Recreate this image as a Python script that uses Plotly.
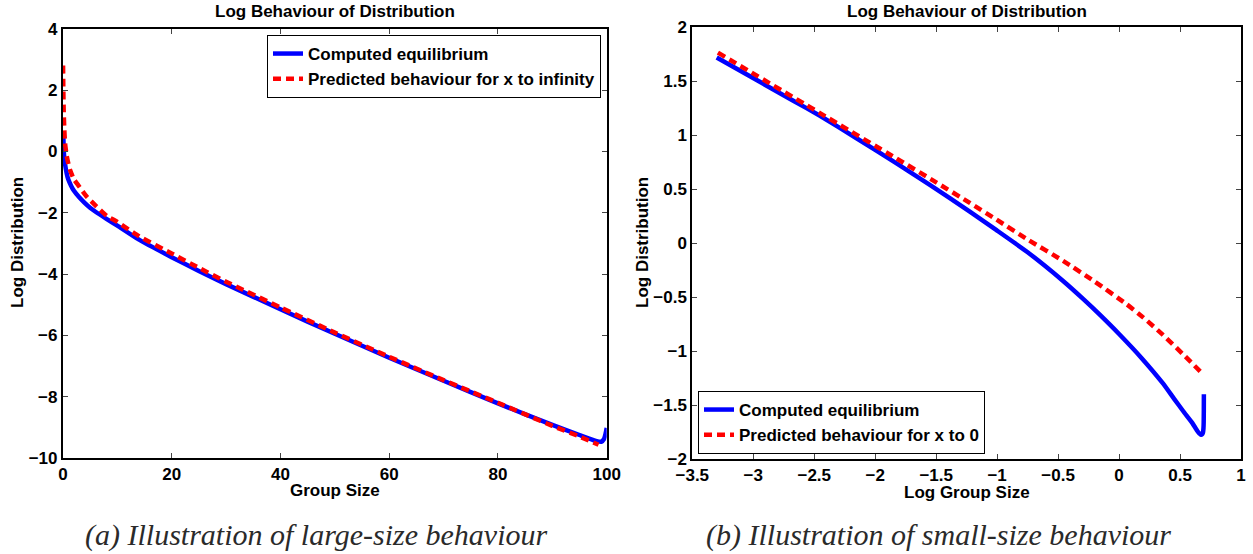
import plotly.graph_objects as go

# ---------------- data ----------------
# (a) large-size behaviour
large_x_computed = [0.07, 0.12, 0.2, 0.4, 0.7, 1.0, 1.5, 2, 3, 4, 5, 6, 8, 10, 14, 20, 25, 30,
                    40, 50, 60, 70, 80, 90, 95, 98, 99, 99.5, 99.8, 100]
large_y_computed = [0.64, 0.25, -0.1, -0.42, -0.72, -0.92, -1.12, -1.28, -1.5, -1.68, -1.84, -1.97,
                    -2.2, -2.42, -2.88, -3.45, -3.9, -4.33, -5.15, -5.95, -6.73, -7.48, -8.22,
                    -8.92, -9.25, -9.44, -9.47, -9.38, -9.2, -9.02]
large_x_predicted = [0.03, 0.08, 0.15, 0.25, 0.4, 0.7, 1.0, 1.3, 2, 2.8, 4.4, 6.2, 8.1, 10, 14,
                     20, 25, 30, 40, 50, 60, 70, 80, 90, 95, 98.5]
large_y_predicted = [2.8, 2.0, 1.3, 0.75, 0.26, -0.15, -0.4, -0.6, -0.9, -1.1, -1.48, -1.8, -2.11,
                     -2.3, -2.77, -3.33, -3.8, -4.25, -5.09, -5.91, -6.7, -7.46, -8.2, -8.95,
                     -9.3, -9.57]

# (b) small-size behaviour
small_x_computed = [-3.3, -2.672, -2.453, -2.15, -1.825, -1.552, -1.224, -1.005, -0.75, -0.459,
                    -0.295, -0.15, 0.0, 0.18, 0.36, 0.45, 0.525, 0.6, 0.625, 0.645, 0.66, 0.672,
                    0.681, 0.688, 0.692, 0.694, 0.695, 0.6955]
small_y_computed = [1.72, 1.32, 1.18, 0.97, 0.74, 0.54, 0.292, 0.12, -0.084, -0.35,
                    -0.516, -0.672, -0.842, -1.059, -1.30, -1.44, -1.555, -1.665, -1.71, -1.745,
                    -1.765, -1.775, -1.772, -1.755, -1.72, -1.66, -1.55, -1.40]
small_x_predicted = [-3.29, -2.453, -1.825, -1.51, -1.224, -1.005, -0.75, -0.459, -0.2, 0.061,
                     0.2, 0.36, 0.525, 0.694]
small_y_predicted = [1.765, 1.205, 0.784, 0.57, 0.373, 0.218, 0.034, -0.164, -0.356, -0.565,
                     -0.69, -0.85, -1.03, -1.22]

title_text = "Log Behaviour of Distribution"
legend_computed = "Computed equilibrium"
legend_pred_a = "Predicted behaviour for x to infinity"
legend_pred_b = "Predicted behaviour for x to 0"
xlabel_a = "Group Size"
xlabel_b = "Log Group Size"
ylabel = "Log Distribution"
caption_a = "(a) Illustration of large-size behaviour"
caption_b = "(b) Illustration of small-size behaviour"

# ---------------- figure ----------------
W, H = 1253, 554
BOLD = dict(family="Liberation Sans, Arial, sans-serif", size=17, color="black", weight="bold")
BLUE = "#0000FF"
RED = "#FF0000"
DASH = "8px,5px"

fig = go.Figure()
fig.add_trace(go.Scatter(x=large_x_computed, y=large_y_computed, mode="lines",
                         name=legend_computed, line=dict(color=BLUE, width=4.5, shape="spline", smoothing=0.5),
                         xaxis="x", yaxis="y", legend="legend"))
fig.add_trace(go.Scatter(x=large_x_predicted, y=large_y_predicted, mode="lines",
                         name=legend_pred_a, line=dict(color=RED, width=4.5, dash=DASH, shape="spline", smoothing=0.5),
                         xaxis="x", yaxis="y", legend="legend"))
fig.add_trace(go.Scatter(x=small_x_computed, y=small_y_computed, mode="lines",
                         name=legend_computed, line=dict(color=BLUE, width=4.5, shape="spline", smoothing=0.4),
                         xaxis="x2", yaxis="y2", legend="legend2"))
fig.add_trace(go.Scatter(x=small_x_predicted, y=small_y_predicted, mode="lines",
                         name=legend_pred_b, line=dict(color=RED, width=4.5, dash=DASH, shape="spline", smoothing=0.5),
                         xaxis="x2", yaxis="y2", legend="legend2"))


def px_x(p):
    return p / W


def px_y(p):
    return (H - p) / H


axis_common = dict(showline=True, linecolor="black", linewidth=2, mirror="ticks",
                   ticks="inside", ticklen=5, tickwidth=1, tickcolor="#444",
                   showgrid=False, zeroline=False, tickfont=BOLD, automargin=False)

fig.update_layout(
    width=W, height=H,
    margin=dict(l=0, r=0, t=0, b=0, autoexpand=False),
    paper_bgcolor="white", plot_bgcolor="white",
    xaxis=dict(domain=[px_x(62.9), px_x(606.7)], range=[0, 100], dtick=20, tick0=0,
               anchor="y", **axis_common),
    yaxis=dict(domain=[px_y(458), px_y(28.7)], range=[-10, 4], dtick=2, tick0=0,
               anchor="x", **axis_common),
    xaxis2=dict(domain=[px_x(692.3), px_x(1241)], range=[-3.5, 1], dtick=0.5, tick0=0,
                anchor="y2", **axis_common),
    yaxis2=dict(domain=[px_y(459), px_y(27.3)], range=[-2, 2], dtick=0.5, tick0=0,
                anchor="x2", **axis_common),
    legend=dict(x=px_x(601), y=px_y(35), xanchor="right", yanchor="top",
                bgcolor="white", bordercolor="black", borderwidth=1,
                font=BOLD, tracegroupgap=0, itemwidth=30),
    legend2=dict(x=px_x(698), y=px_y(454), xanchor="left", yanchor="bottom",
                 bgcolor="white", bordercolor="black", borderwidth=1,
                 font=BOLD, tracegroupgap=0, itemwidth=30),
    showlegend=True,
)

ann = []
# titles
ann.append(dict(text=title_text, x=px_x(335), y=1.0, xref="paper", yref="paper",
                showarrow=False, xanchor="center", yanchor="top", font=BOLD))
ann.append(dict(text=title_text, x=px_x(967), y=1.0, xref="paper", yref="paper",
                showarrow=False, xanchor="center", yanchor="top", font=BOLD))
# x labels
ann.append(dict(text=xlabel_a, x=px_x(335), y=px_y(490), xref="paper", yref="paper",
                showarrow=False, xanchor="center", yanchor="middle", font=BOLD))
ann.append(dict(text=xlabel_b, x=px_x(967), y=px_y(492), xref="paper", yref="paper",
                showarrow=False, xanchor="center", yanchor="middle", font=BOLD))
# y labels
ann.append(dict(text=ylabel, x=px_x(17), y=px_y(243), xref="paper", yref="paper",
                showarrow=False, xanchor="center", yanchor="middle", textangle=-90, font=BOLD))
ann.append(dict(text=ylabel, x=px_x(642), y=px_y(243), xref="paper", yref="paper",
                showarrow=False, xanchor="center", yanchor="middle", textangle=-90, font=BOLD))
# captions
CAP = dict(family="Liberation Serif, DejaVu Serif, serif", size=30, color="#2a2a2a", style="italic")
ann.append(dict(text=caption_a, x=px_x(316), y=0.0, xref="paper", yref="paper",
                showarrow=False, xanchor="center", yanchor="bottom", font=CAP))
ann.append(dict(text=caption_b, x=px_x(938), y=0.0, xref="paper", yref="paper",
                showarrow=False, xanchor="center", yanchor="bottom", font=CAP))
fig.update_layout(annotations=ann)

fig.write_html("out.html", config={"displayModeBar": False},
               post_script="document.body.style.margin='0px';")
